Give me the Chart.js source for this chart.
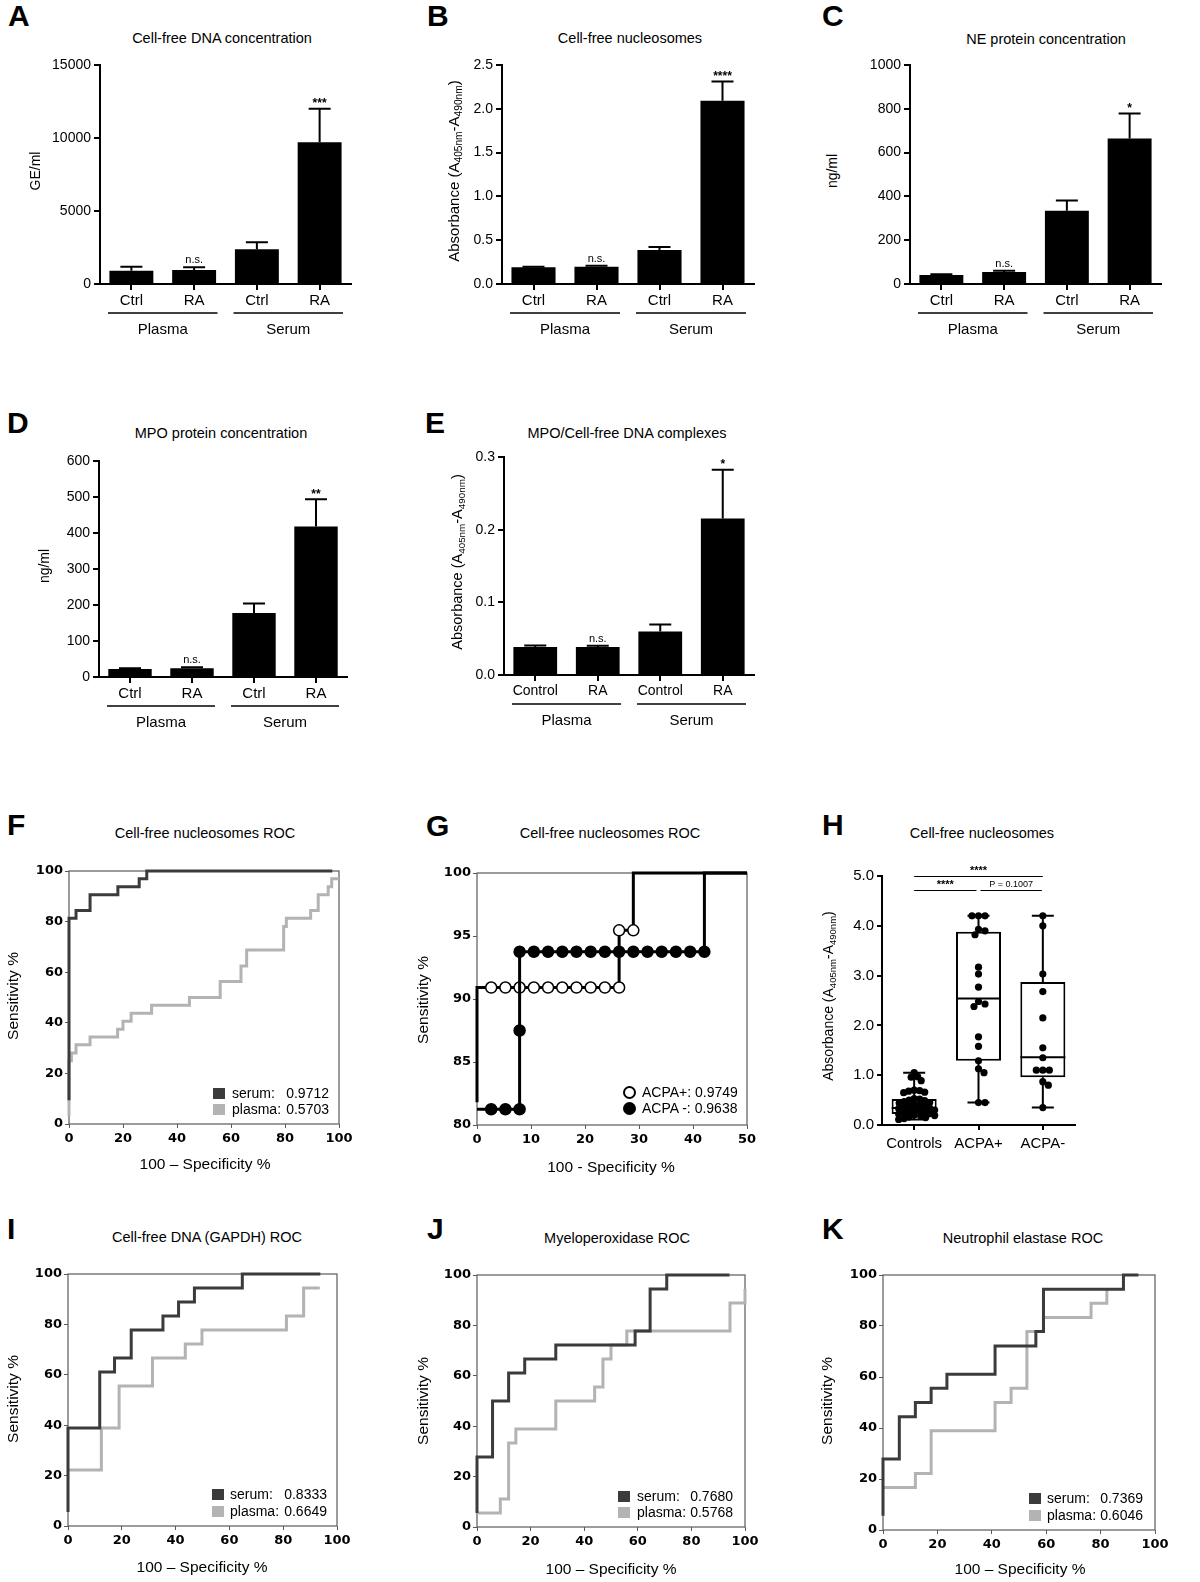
<!DOCTYPE html>
<html><head><meta charset="utf-8">
<script src="https://cdn.jsdelivr.net/npm/chart.js@4.4.1/dist/chart.umd.min.js"></script>
<style>
html,body{margin:0;padding:0;background:#fff}
#fig{position:relative;width:1200px;height:1582px;background:#fff;overflow:hidden;font-family:"Liberation Sans",Arial,Helvetica,sans-serif;color:#000}
#fig canvas{position:absolute}
.t{position:absolute;white-space:nowrap;line-height:1}
.t sub{font-size:0.68em;line-height:0;vertical-align:-0.3em}
.sq{position:absolute;width:12px;height:11px}
.dot{position:absolute;width:13px;height:13px;border-radius:50%;box-sizing:border-box;border:2px solid #000}
</style></head><body><div id="fig"></div>
<script>
// ================= DATA =================
const barCategories = ['Ctrl', 'RA', 'Ctrl', 'RA'];
const barCategoriesE = ['Control', 'RA', 'Control', 'RA'];
const barGroups = ['Plasma', 'Serum'];

// A: Cell-free DNA concentration (GE/ml)
const dnaMean = [913, 959, 2374, 9703];
const dnaSem  = [274, 182, 480, 2306];
const dnaSig  = ['', 'n.s.', '', '***'];
// B: Cell-free nucleosomes (absorbance)
const nucMean = [0.190, 0.198, 0.388, 2.093];
const nucSem  = [0.008, 0.011, 0.034, 0.220];
const nucSig  = ['', 'n.s.', '', '****'];
// C: NE protein concentration (ng/ml)
const neMean = [41, 55, 335, 664];
const neSem  = [4, 6, 46, 115];
const neSig  = ['', 'n.s.', '', '*'];
// D: MPO protein concentration (ng/ml)
const mpoMean = [22, 24, 178, 418];
const mpoSem  = [2, 3, 26, 76];
const mpoSig  = ['', 'n.s.', '', '**'];
// E: MPO/cell-free DNA complexes (absorbance)
const cpxMean = [0.0385, 0.0385, 0.060, 0.2153];
const cpxSem  = [0.0020, 0.0017, 0.0096, 0.0673];
const cpxSig  = ['', 'n.s.', '', '*'];

// F: Cell-free nucleosomes ROC
const fSerumX  = [0, 0, 2.6, 7.8, 18.1, 26.0, 28.8, 97.5];
const fSerumY  = [9.4, 81.3, 84.4, 90.6, 93.8, 96.9, 100, 100];
const fPlasmaX = [0, 0, 0.9, 2.6, 7.8, 18.0, 20.0, 23.0, 30.6, 44.6, 56.0, 63.7, 65.8, 79.5, 80.5, 89.5, 92.3, 96.0, 97.3, 100];
const fPlasmaY = [3.1, 25.0, 28.1, 31.3, 34.4, 37.5, 40.6, 43.8, 46.9, 50.0, 56.3, 62.5, 68.8, 78.1, 81.3, 84.4, 90.6, 93.8, 96.9, 96.9];
const fAuc = [0.9712, 0.5703];

// G: Cell-free nucleosomes ROC by ACPA status
const gPosX = [0, 0, 2.63, 5.26, 7.89, 10.53, 13.16, 15.79, 18.42, 21.05, 23.68, 26.32, 26.32, 28.95, 28.95, 50];
const gPosY = [81.8, 90.91, 90.91, 90.91, 90.91, 90.91, 90.91, 90.91, 90.91, 90.91, 90.91, 90.91, 95.45, 95.45, 100, 100];
const gNegX = [0, 2.63, 5.26, 7.89, 7.89, 7.89, 10.53, 13.16, 15.79, 18.42, 21.05, 23.68, 26.32, 28.95, 31.58, 34.21, 36.84, 39.47, 42.11, 42.11, 50];
const gNegY = [81.25, 81.25, 81.25, 81.25, 87.5, 93.75, 93.75, 93.75, 93.75, 93.75, 93.75, 93.75, 93.75, 93.75, 93.75, 93.75, 93.75, 93.75, 93.75, 100, 100];
const gNames = ['ACPA+', 'ACPA -'];
const gAuc = [0.9749, 0.9638];

// H: Cell-free nucleosomes box plots
const hCategories = ['Controls', 'ACPA+', 'ACPA-'];
const hControls = [1.05, 0.97, 0.96, 0.89, 0.70, 0.69, 0.68, 0.66, 0.65, 0.53, 0.52, 0.50, 0.49, 0.47, 0.45, 0.44, 0.42, 0.40, 0.38, 0.37, 0.35, 0.34, 0.33, 0.31, 0.30, 0.28, 0.27, 0.26, 0.24, 0.23, 0.22, 0.20, 0.19, 0.18, 0.16, 0.15, 0.13, 0.11];
const hAcpaPos = [4.2, 4.2, 4.2, 3.93, 3.90, 3.82, 3.17, 3.03, 2.77, 2.48, 2.43, 2.38, 1.77, 1.58, 1.29, 1.13, 1.05, 0.45, 0.45];
const hAcpaNeg = [4.2, 4.0, 3.03, 2.68, 2.15, 1.55, 1.35, 1.10, 1.10, 1.10, 0.87, 0.80, 0.35];
const hMin    = [0.11, 0.45, 0.35];
const hQ1     = [0.22, 1.29, 0.96];
const hMedian = [0.34, 2.54, 1.36];
const hQ3     = [0.52, 3.88, 2.87];
const hMax    = [1.05, 4.20, 4.20];
const hSigPairs  = [[0, 2], [0, 1], [1, 2]];
const hSigLabels = ['****', '****', 'P = 0.1007'];

// I: Cell-free DNA (GAPDH) ROC
const iSerumX  = [0, 0, 11.8, 17.3, 23.5, 35.3, 41.1, 47.0, 64.8, 93.8];
const iSerumY  = [5.6, 38.9, 61.1, 66.7, 77.8, 83.3, 88.9, 94.4, 100, 100];
const iPlasmaX = [0, 12.4, 19.0, 31.4, 43.6, 49.8, 81.2, 87.6, 93.6];
const iPlasmaY = [22.2, 38.9, 55.6, 66.7, 72.2, 77.8, 83.3, 94.4, 94.4];
const iAuc = [0.8333, 0.6649];

// J: Myeloperoxidase ROC
const jSerumX  = [0, 0, 5.8, 11.8, 17.8, 29.4, 59.0, 64.6, 70.8, 94.2];
const jSerumY  = [5.6, 27.8, 50.0, 61.1, 66.7, 72.2, 77.8, 94.4, 100, 100];
const jPlasmaX = [0, 8.7, 11.8, 14.5, 29.4, 43.9, 47.0, 50.0, 55.9, 94.4, 100];
const jPlasmaY = [5.6, 11.1, 33.3, 38.9, 50.0, 55.6, 66.7, 72.2, 77.8, 88.9, 94.4];
const jAuc = [0.7680, 0.5768];

// K: Neutrophil elastase ROC
const kSerumX  = [0, 0, 6.0, 11.9, 17.7, 23.5, 41.2, 56.2, 59.0, 88.4, 93.9];
const kSerumY  = [5.6, 27.8, 44.4, 50.0, 55.6, 61.1, 72.2, 77.8, 94.4, 100, 100];
const kPlasmaX = [0, 11.9, 17.7, 41.2, 47.1, 52.9, 59.0, 76.5, 82.3];
const kPlasmaY = [16.7, 22.2, 38.9, 50.0, 55.6, 77.8, 83.3, 88.9, 94.4];
const kAuc = [0.7369, 0.6046];

const rocNames = ['serum:', 'plasma:'];

// ================= SETUP =================
const FONT = '"Liberation Sans", Arial, Helvetica, sans-serif';
const ROCTICK = '"DejaVu Sans", Verdana, sans-serif';
const SERUM = '#3b3b3b', PLASMA = '#b3b3b3';
Chart.defaults.font.family = FONT;
Chart.defaults.color = '#000';
Chart.defaults.animation = false;
Chart.defaults.responsive = false;
Chart.defaults.plugins.legend.display = false;
Chart.defaults.plugins.tooltip.enabled = false;
const fig = document.getElementById('fig');

function mkCanvas(area, m) {
  const c = document.createElement('canvas');
  const w = area.r - area.l + m.l + m.r, h = area.b - area.t + m.t + m.b;
  c.width = w; c.height = h;
  c.style.left = (area.l - m.l) + 'px'; c.style.top = (area.t - m.t) + 'px';
  c.style.width = w + 'px'; c.style.height = h + 'px';
  fig.appendChild(c);
  return c;
}
function txt(html, x, cy, size, opt) {
  opt = opt || {};
  const d = document.createElement('div');
  d.className = 't';
  d.innerHTML = html;
  d.style.fontSize = size + 'px';
  d.style.left = x + 'px';
  d.style.top = (cy - size / 2) + 'px';
  if (opt.bold) d.style.fontWeight = 'bold';
  if (opt.align === 'center') d.style.transform = 'translateX(-50%)';
  if (opt.align === 'right') d.style.transform = 'translateX(-100%)';
  fig.appendChild(d);
  return d;
}
function vtxt(html, cx, cy, size) {
  const d = document.createElement('div');
  d.className = 't';
  d.innerHTML = html;
  d.style.fontSize = size + 'px';
  d.style.left = cx + 'px'; d.style.top = cy + 'px';
  d.style.transform = 'translate(-50%,-50%) rotate(-90deg)';
  fig.appendChild(d);
}
function xy(xs, ys) { return xs.map((x, i) => ({x: x, y: ys[i]})); }

// ================= PLUGINS =================
const errorBarPlugin = {
  id: 'errbars',
  afterDatasetsDraw(chart, args, o) {
    const ctx = chart.ctx, y = chart.scales.y;
    const ds = chart.data.datasets[0];
    ctx.save();
    ctx.strokeStyle = '#000'; ctx.fillStyle = '#000'; ctx.lineWidth = 2;
    chart.getDatasetMeta(0).data.forEach((bar, i) => {
      const v = ds.data[i];
      const top = y.getPixelForValue(v + o.sem[i]);
      const base = y.getPixelForValue(v);
      ctx.beginPath();
      ctx.moveTo(bar.x, base); ctx.lineTo(bar.x, top);
      ctx.moveTo(bar.x - 11, top); ctx.lineTo(bar.x + 11, top);
      ctx.stroke();
      const s = o.sig[i];
      if (s) {
        ctx.textAlign = 'center'; ctx.textBaseline = 'alphabetic';
        if (s === 'n.s.') { ctx.font = '11px ' + FONT; ctx.fillText(s, bar.x, top - 4); }
        else { ctx.font = 'bold 12px ' + FONT; ctx.fillText(s, bar.x, top - 1.5); }
      }
    });
    ctx.restore();
  }
};
const groupPlugin = {
  id: 'groups',
  afterDraw(chart, args, o) {
    const x = chart.scales.x, ctx = chart.ctx, yb = chart.chartArea.bottom;
    const half = (x.getPixelForValue(1) - x.getPixelForValue(0)) / 2;
    ctx.save();
    ctx.strokeStyle = '#000'; ctx.lineWidth = 1.5; ctx.fillStyle = '#000';
    ctx.font = '15px ' + FONT; ctx.textAlign = 'center'; ctx.textBaseline = 'middle';
    o.names.forEach((name, g) => {
      const a = x.getPixelForValue(g * 2) - half + 8;
      const b = x.getPixelForValue(g * 2 + 1) + half - 8;
      ctx.beginPath(); ctx.moveTo(a, yb + 29); ctx.lineTo(b, yb + 29); ctx.stroke();
      ctx.fillText(name, (a + b) / 2, yb + 46);
    });
    ctx.restore();
  }
};
const framePlugin = {
  id: 'frame',
  beforeDatasetsDraw(chart) {
    const ctx = chart.ctx, a = chart.chartArea;
    ctx.save();
    ctx.strokeStyle = '#5a5a5a'; ctx.lineWidth = 1.2;
    ctx.strokeRect(a.left, a.top, a.right - a.left, a.bottom - a.top);
    ctx.restore();
  }
};
const boxPlugin = {
  id: 'boxes',
  afterDatasetDraw(chart, args, o) {
    if (args.index !== 1) return;
    const ctx = chart.ctx, y = chart.scales.y;
    const bars = chart.getDatasetMeta(1).data;
    ctx.save();
    ctx.strokeStyle = '#000'; ctx.lineWidth = 2;
    o.median.forEach((m, i) => {
      const cx = bars[i].x, hw = bars[i].width / 2;
      const py = v => y.getPixelForValue(v);
      ctx.beginPath();
      ctx.moveTo(cx - hw, py(m)); ctx.lineTo(cx + hw, py(m));
      ctx.moveTo(cx, py(o.q3[i])); ctx.lineTo(cx, py(o.max[i]));
      ctx.moveTo(cx, py(o.q1[i])); ctx.lineTo(cx, py(o.min[i]));
      ctx.moveTo(cx - 11, py(o.max[i])); ctx.lineTo(cx + 11, py(o.max[i]));
      ctx.moveTo(cx - 11, py(o.min[i])); ctx.lineTo(cx + 11, py(o.min[i]));
      ctx.stroke();
    });
    ctx.restore();
  },
  afterDraw(chart, args, o) {
    const ctx = chart.ctx, x = chart.scales.x, top = chart.chartArea.top;
    ctx.save();
    ctx.strokeStyle = '#000'; ctx.lineWidth = 1; ctx.fillStyle = '#000'; ctx.textAlign = 'center';
    o.pairs.forEach((p, k) => {
      const a = x.getPixelForValue(p[0]), b = x.getPixelForValue(p[1]);
      const wide = (p[1] - p[0]) > 1;
      const ly = wide ? top : top + 14;
      const a2 = wide ? a : (p[0] === 0 ? a : a + 2);
      const b2 = wide ? b : (p[0] === 0 ? b - 2 : b - 1);
      ctx.beginPath(); ctx.moveTo(a2, ly + 0.5); ctx.lineTo(b2, ly + 0.5); ctx.stroke();
      const s = o.labels[k];
      if (s.indexOf('*') === 0) { ctx.font = 'bold 11px ' + FONT; ctx.fillText(s, (a2 + b2) / 2, ly - 2); }
      else { ctx.font = '9px ' + FONT; ctx.fillText(s, (a2 + b2) / 2, ly - 3); }
    });
    ctx.restore();
  }
};

// ================= BAR CHARTS =================
function barChart(area, cats, mean, sem, sig, yMax, yStep, dec, catSize) {
  const axW = 62, axH = 70, m = {l: 70, t: 16, r: 16, b: 74};
  const c = mkCanvas(area, m);
  const grid = {display: true, drawOnChartArea: false, drawTicks: true, tickLength: 6, color: '#000', lineWidth: 2, offset: false};
  const border = {display: true, color: '#000', width: 2};
  return new Chart(c, {
    type: 'bar',
    data: {labels: cats, datasets: [{data: mean, backgroundColor: '#000', borderWidth: 0, barPercentage: 0.7, categoryPercentage: 1}]},
    options: {
      layout: {padding: {left: m.l - axW, top: m.t, right: m.r, bottom: m.b - axH}},
      scales: {
        x: {grid: grid, border: border, ticks: {font: {size: catSize}, padding: 2, maxRotation: 0, autoSkip: false}, afterFit: s => { s.height = axH; }},
        y: {min: 0, max: yMax, grid: grid, border: border,
            ticks: {stepSize: yStep, font: {size: 14}, padding: 3, callback: v => Number(v).toFixed(dec)},
            afterFit: s => { s.width = axW; }}
      },
      plugins: {errbars: {sem: sem, sig: sig}, groups: {names: barGroups}}
    },
    plugins: [errorBarPlugin, groupPlugin]
  });
}
barChart({l: 100, t: 65, r: 351, b: 284}, barCategories, dnaMean, dnaSem, dnaSig, 15000, 5000, 0, 15);
barChart({l: 502, t: 65, r: 754, b: 284}, barCategories, nucMean, nucSem, nucSig, 2.5, 0.5, 1, 15);
barChart({l: 910, t: 65, r: 1161, b: 284}, barCategories, neMean, neSem, neSig, 1000, 200, 0, 15);
barChart({l: 99, t: 461, r: 347, b: 677}, barCategories, mpoMean, mpoSem, mpoSig, 600, 100, 0, 15);
barChart({l: 504, t: 457, r: 754, b: 675}, barCategoriesE, cpxMean, cpxSem, cpxSig, 0.3, 0.1, 1, 14);

// ================= ROC CHARTS =================
function rocChart(area, datasets, xMax, xStep, yMin, yStep) {
  const axW = 46, axH = 30, m = {l: 50, t: 14, r: 22, b: 34};
  const c = mkCanvas(area, m);
  const grid = {display: true, drawOnChartArea: false, drawTicks: true, tickLength: 4, color: '#5a5a5a', lineWidth: 1};
  const tf = {family: ROCTICK, size: 13, weight: 'bold'};
  return new Chart(c, {
    type: 'scatter',
    data: {datasets: datasets},
    options: {
      layout: {padding: {left: m.l - axW, top: m.t, right: m.r, bottom: m.b - axH}},
      scales: {
        x: {type: 'linear', min: 0, max: xMax, grid: grid, border: {display: false},
            ticks: {stepSize: xStep, font: tf, padding: 3, maxRotation: 0}, afterFit: s => { s.height = axH; }},
        y: {type: 'linear', min: yMin, max: 100, grid: grid, border: {display: false},
            ticks: {stepSize: yStep, font: tf, padding: 2}, afterFit: s => { s.width = axW; }}
      }
    },
    plugins: [framePlugin]
  });
}
function rocLine(xs, ys, color) {
  return {data: xy(xs, ys), showLine: true, borderColor: color, borderWidth: 3, pointRadius: 0,
          stepped: 'before', clip: 8, borderJoinStyle: 'miter', borderCapStyle: 'butt'};
}
rocChart({l: 69, t: 871, r: 339, b: 1124}, [rocLine(fSerumX, fSerumY, SERUM), rocLine(fPlasmaX, fPlasmaY, PLASMA)], 100, 20, 0, 20);
rocChart({l: 68, t: 1274, r: 337, b: 1526}, [rocLine(iSerumX, iSerumY, SERUM), rocLine(iPlasmaX, iPlasmaY, PLASMA)], 100, 20, 0, 20);
rocChart({l: 477, t: 1275, r: 745, b: 1527}, [rocLine(jSerumX, jSerumY, SERUM), rocLine(jPlasmaX, jPlasmaY, PLASMA)], 100, 20, 0, 20);
rocChart({l: 883, t: 1275, r: 1155, b: 1530}, [rocLine(kSerumX, kSerumY, SERUM), rocLine(kPlasmaX, kPlasmaY, PLASMA)], 100, 20, 0, 20);

function gLine(xs, ys, fill) {
  return {data: xy(xs, ys), showLine: true, borderColor: '#000', borderWidth: 3, clip: 8,
          borderJoinStyle: 'miter', borderCapStyle: 'butt',
          pointRadius: ctx => (ctx.raw && (ctx.raw.x === 0 || ctx.raw.y === 100)) ? 0 : 5.5,
          pointBackgroundColor: fill, pointBorderColor: '#000', pointBorderWidth: 1.5};
}
rocChart({l: 477, t: 873, r: 747, b: 1125}, [gLine(gNegX, gNegY, '#000'), gLine(gPosX, gPosY, '#fff')], 50, 10, 80, 5);

// ================= H: BOX PLOT =================
(function () {
  const area = {l: 882, t: 876, r: 1075, b: 1125};
  const pxPerUnit = (area.b - area.t) / 5, pxPerCat = (area.r - area.l) / 3;
  function swarm(vals, d) {
    const placed = [];
    return vals.map(v => {
      const yy = v * pxPerUnit;
      let dx = 0;
      for (let k = 0; k < 400; k++) {
        const cand = (k % 2 ? 1 : -1) * Math.ceil(k / 2) * 0.5;
        if (placed.every(p => Math.hypot(p.x - cand, p.y - yy) >= d)) { dx = cand; break; }
      }
      placed.push({x: dx, y: yy});
      return dx / pxPerCat;
    });
  }
  const groups = [hControls, hAcpaPos, hAcpaNeg];
  const dots = [];
  groups.forEach((vals, g) => {
    const off = swarm(vals, g === 0 ? 5.2 : 6.5);
    vals.forEach((v, i) => dots.push({x: g + off[i], y: v}));
  });
  const axW = 60, axH = 40, m = {l: 66, t: 22, r: 16, b: 44};
  const c = mkCanvas(area, m);
  const grid = {display: true, drawOnChartArea: false, drawTicks: true, tickLength: 5, color: '#000', lineWidth: 2, offset: false};
  const border = {display: true, color: '#000', width: 2};
  new Chart(c, {
    type: 'bar',
    data: {
      labels: hCategories,
      datasets: [
        {type: 'scatter', data: dots, xAxisID: 'x2', yAxisID: 'y', pointRadius: 3.6, backgroundColor: '#000', borderWidth: 0},
        {type: 'bar', data: hQ1.map((q, i) => [q, hQ3[i]]), backgroundColor: '#fff', borderColor: '#000', borderWidth: 2,
         borderSkipped: false, grouped: false, barPercentage: 0.7, categoryPercentage: 1}
      ]
    },
    options: {
      layout: {padding: {left: m.l - axW, top: m.t, right: m.r, bottom: m.b - axH}},
      scales: {
        x: {grid: grid, border: border, ticks: {font: {size: 15}, padding: 5, maxRotation: 0, autoSkip: false}, afterFit: s => { s.height = axH; }},
        x2: {type: 'linear', min: -0.5, max: 2.5, offset: false, display: false},
        y: {min: 0, max: 5, grid: grid, border: border,
            ticks: {stepSize: 1, font: {size: 15}, padding: 3, callback: v => Number(v).toFixed(1)},
            afterFit: s => { s.width = axW; }}
      },
      plugins: {boxes: {min: hMin, q1: hQ1, median: hMedian, q3: hQ3, max: hMax, pairs: hSigPairs, labels: hSigLabels}}
    },
    plugins: [boxPlugin]
  });
})();

// ================= TEXT =================
[['A', 8, 16], ['B', 427, 16], ['C', 822, 16], ['D', 7, 423], ['E', 425, 423],
 ['F', 7, 825], ['G', 426, 826], ['H', 822, 825], ['I', 7, 1229], ['J', 427, 1229], ['K', 822, 1229]]
  .forEach(a => txt(a[0], a[1], a[2], 30, {bold: true}));

[['Cell-free DNA concentration', 222, 38], ['Cell-free nucleosomes', 630, 38], ['NE protein concentration', 1046, 39],
 ['MPO protein concentration', 221, 433], ['MPO/Cell-free DNA complexes', 627, 433],
 ['Cell-free nucleosomes ROC', 205, 833], ['Cell-free nucleosomes ROC', 610, 833], ['Cell-free nucleosomes', 982, 833],
 ['Cell-free DNA (GAPDH) ROC', 207, 1237], ['Myeloperoxidase ROC', 617, 1238], ['Neutrophil elastase ROC', 1023, 1238]]
  .forEach(a => txt(a[0], a[1], a[2], 14.5, {align: 'center'}));

const ABS = 'Absorbance (A<sub>405nm</sub>-A<sub>490nm</sub>)';
vtxt('GE/ml', 35, 171, 14);
vtxt(ABS, 453, 171, 15);
vtxt('ng/ml', 832, 171, 14);
vtxt('ng/ml', 44, 566, 14);
vtxt(ABS, 457, 562, 14.5);
vtxt('Sensitivity %', 13, 996, 15.5);
vtxt('Sensitivity %', 423, 1000, 15.5);
vtxt(ABS, 828, 996, 14);
vtxt('Sensitivity %', 13, 1399, 15.5);
vtxt('Sensitivity %', 423, 1401, 15.5);
vtxt('Sensitivity %', 827, 1401, 15.5);

txt('100 – Specificity %', 205, 1164, 15.5, {align: 'center'});
txt('100 - Specificity %', 611, 1167, 15.5, {align: 'center'});
txt('100 – Specificity %', 202, 1567, 15.5, {align: 'center'});
txt('100 – Specificity %', 611, 1569, 15.5, {align: 'center'});
txt('100 – Specificity %', 1020, 1569, 15.5, {align: 'center'});

function rocLegend(sqX, textL, textR, cy1, cy2, aucs) {
  [[cy1, SERUM, 0], [cy2, PLASMA, 1]].forEach(r => {
    const s = document.createElement('div');
    s.className = 'sq'; s.style.background = r[1];
    s.style.left = sqX + 'px'; s.style.top = (r[0] - 5.5) + 'px';
    fig.appendChild(s);
    txt(rocNames[r[2]], textL, r[0], 14);
    txt(aucs[r[2]].toFixed(4), textR, r[0], 14, {align: 'right'});
  });
}
rocLegend(213, 232, 329, 1093, 1109, fAuc);
rocLegend(212, 230, 327, 1494, 1511, iAuc);
rocLegend(618, 637, 733, 1496, 1512, jAuc);
rocLegend(1029, 1047, 1143, 1498, 1515, kAuc);

[[1092, '#fff', 0], [1108, '#000', 1]].forEach(r => {
  const d = document.createElement('div');
  d.className = 'dot'; d.style.background = r[1];
  d.style.left = (629 - 6.5) + 'px'; d.style.top = (r[0] - 6.5) + 'px';
  fig.appendChild(d);
  txt(gNames[r[2]] + ': ' + gAuc[r[2]].toFixed(4), 642, r[0], 14);
});
</script></body></html>
